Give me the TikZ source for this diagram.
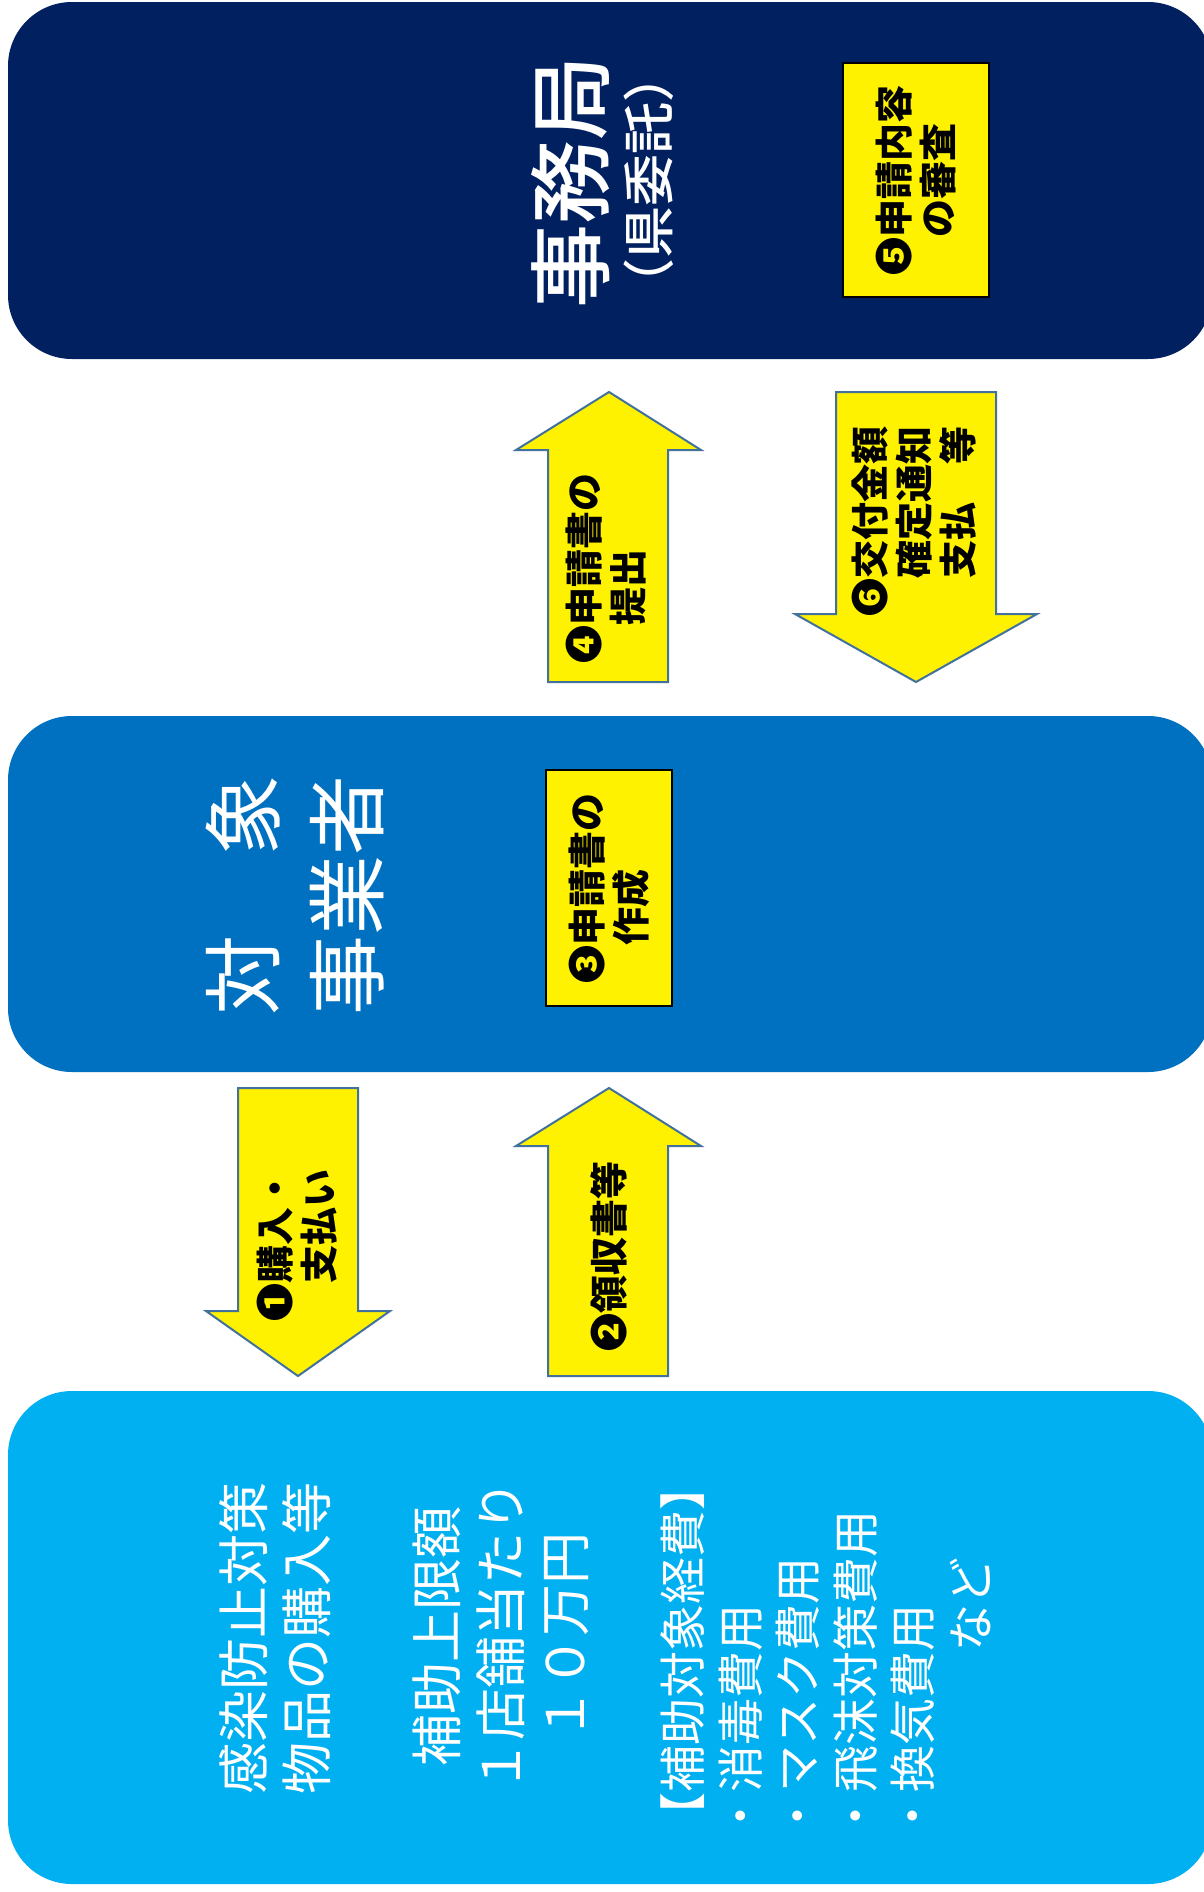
\documentclass[tikz,border=0pt]{standalone}
\usepackage{fontspec}
\newfontfamily\cjk{Noto Sans CJK JP}
\newfontfamily\cjkmed{Noto Sans CJK JP Medium}
\usetikzlibrary{positioning}
\definecolor{navy}{HTML}{002060}
\definecolor{midblue}{HTML}{0070C0}
\definecolor{skyblue}{HTML}{00B0F0}
\definecolor{arrowline}{HTML}{41719C}

\begin{document}
\begin{tikzpicture}[x=0.5pt, y=-0.5pt,
    panel/.style={rounded corners=32pt},
    yarrow/.style={fill=yellow, draw=arrowline, line width=1pt, line join=miter},
    ybox/.style={fill=yellow, draw=black, line width=1.3pt, rotate=90, inner sep=0pt,
      font=\cjk\bfseries\fontsize{19}{22}\selectfont, align=left},
    ytext/.style={rotate=90, inner sep=0pt, font=\cjk\bfseries\fontsize{19}{22}\selectfont, align=left},
    wtext/.style={rotate=90, inner sep=0pt, text=white}]
  \useasboundingbox (0,0) rectangle (1204,1892);
  \fill[white] (0,0) rectangle (1204,1892);

  % panels
  \fill[panel, navy] (8,2) rectangle (1212,359);
  \fill[panel, midblue] (8,716) rectangle (1212,1072);
  \fill[panel, skyblue] (8,1391) rectangle (1212,1884);

  % office
  \node[wtext, font=\cjkmed\fontsize{42}{48}\selectfont] (office) at (571,182) {事務局};
  \node[wtext, font=\cjkmed\fontsize{26}{30}\selectfont] (entrust) at (649,180) {（県委託）};
  \node[ybox, minimum width=117pt, minimum height=73pt] (review) at (916,180) {❺申請内容\\　の審査};

  % applicants
  \node[wtext, font=\cjk\fontsize{40}{52}\selectfont, align=left] (target) at (295,895) {対　象\\事業者};
  \node[ybox, minimum width=118pt, minimum height=63pt] (draft) at (609,888) {❸申請書の\\　作成};

  % arrows
  \draw[yarrow] (548,682) -- (548,450) -- (516,450) -- (609,392) -- (701,450) -- (668,450) -- (668,682) -- cycle;
  \node[ytext] (submit) at (606,568) {❹申請書の\\　提出};
  \draw[yarrow] (836,392) -- (996,392) -- (996,614) -- (1037,614) -- (916,682) -- (795,614) -- (836,614) -- cycle;
  \node[ytext] (notice) at (914,521) {❻交付金額\\　確定通知\\　支払　等};
  \draw[yarrow] (238,1088) -- (358,1088) -- (358,1311) -- (390,1311) -- (298,1376) -- (206,1311) -- (238,1311) -- cycle;
  \node[ytext] (purchase) at (297,1245) {❶購入・\\　支払い};
  \draw[yarrow] (548,1376) -- (548,1146) -- (516,1146) -- (609,1088) -- (701,1146) -- (668,1146) -- (668,1376) -- cycle;
  \node[ytext] (receipt) at (609,1256) {❷領収書等};

  % subsidy
  \node[wtext, font=\cjk\fontsize{26}{31.5}\selectfont, align=center] (goods) at (275,1638) {感染防止対策\\物品の購入等};
  \node[wtext, font=\cjk\fontsize{26}{32}\selectfont, align=center] (limit) at (501,1636) {補助上限額\\１店舗当たり\\１０万円};
  \node[wtext, font=\cjk\fontsize{23.5}{28.75}\selectfont, align=left, anchor=west] (costs) at (826,1840)
    {【補助対象経費】\\・消毒費用\\・マスク費用\\・飛沫対策費用\\・換気費用\\　　　　など};
\end{tikzpicture}
\end{document}
